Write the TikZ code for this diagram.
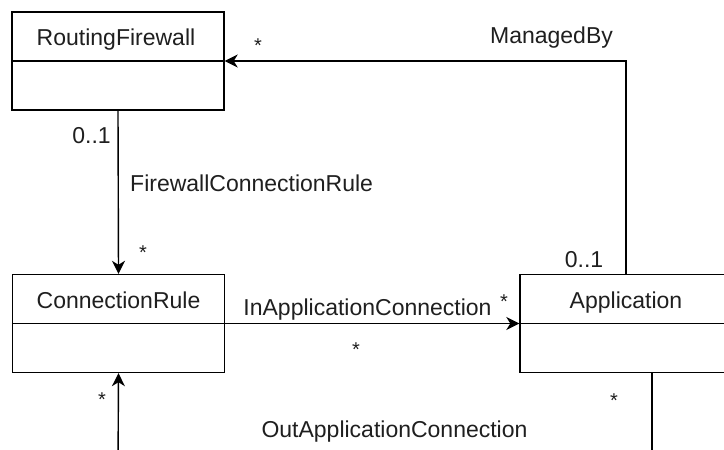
\documentclass[tikz,border=0pt]{standalone}
\usepackage{fontspec}
\setmainfont{Liberation Sans}
\usetikzlibrary{arrows.meta}
\tikzset{
  umlbox/.style={draw, line width=1.4pt, minimum width=212pt, minimum height=98pt, inner sep=0pt},
  lbl/.style={font=\fontsize{23}{27}\selectfont, inner sep=0pt, anchor=base, text=black!88},
  star/.style={font=\fontsize{20}{24}\selectfont, inner sep=0pt, anchor=base, text=black!88},
  conn/.style={line width=1.4pt},
  tip/.style={-{Stealth[length=13pt, width=13pt, inset=4pt]}}
}
\begin{document}
\begin{tikzpicture}[x=1pt, y=-1pt]
\useasboundingbox (0,0) rectangle (724,450);
\clip (0,0) rectangle (724,450);
\fill[white] (0,0) rectangle (724,450);
% class boxes
\node[umlbox] (rf) at (118,61) {};
\node[umlbox] (cr) at (118.5,323.5) {};
\node[umlbox] (app) at (626,323.5) {};
\draw[conn] (rf.west) -- (rf.east);
\draw[conn] (cr.west) -- (cr.east);
\draw[conn] (app.west) -- (app.east);
\node[lbl] (rft) at (116,45) {RoutingFirewall};
\node[lbl] (crt) at (118.5,308) {ConnectionRule};
\node[lbl] (appt) at (626,308) {Application};
% free ends
\coordinate (oute) at (652,470);
\coordinate (outs) at (118,470);
% connectors
\draw[conn, tip] (rf.south) -- (cr.north);
\draw[conn, tip] (app.north) |- (rf.east);
\draw[conn, tip] (cr.east) -- (app.west);
\draw[conn] (app.south -| oute) -- (oute);
\draw[conn, tip] (outs) -- (cr.south);
% labels
\node[star] (l1) at (258,52) {*};
\node[lbl] (l2) at (551.5,43) {ManagedBy};
\node[lbl] (l3) at (91.5,143) {0..1};
\node[lbl, anchor=base west] (l4) at (130,191) {FirewallConnectionRule};
\node[star] (l5) at (143,259) {*};
\node[lbl] (l6) at (367.5,315) {InApplicationConnection};
\node[star] (l7) at (504,308) {*};
\node[star] (l8) at (356,356) {*};
\node[lbl] (l9) at (584,267) {0..1};
\node[star] (l10) at (102,406) {*};
\node[star] (l11) at (614,407) {*};
\node[lbl] (l12) at (394.5,437) {OutApplicationConnection};
\end{tikzpicture}
\end{document}
